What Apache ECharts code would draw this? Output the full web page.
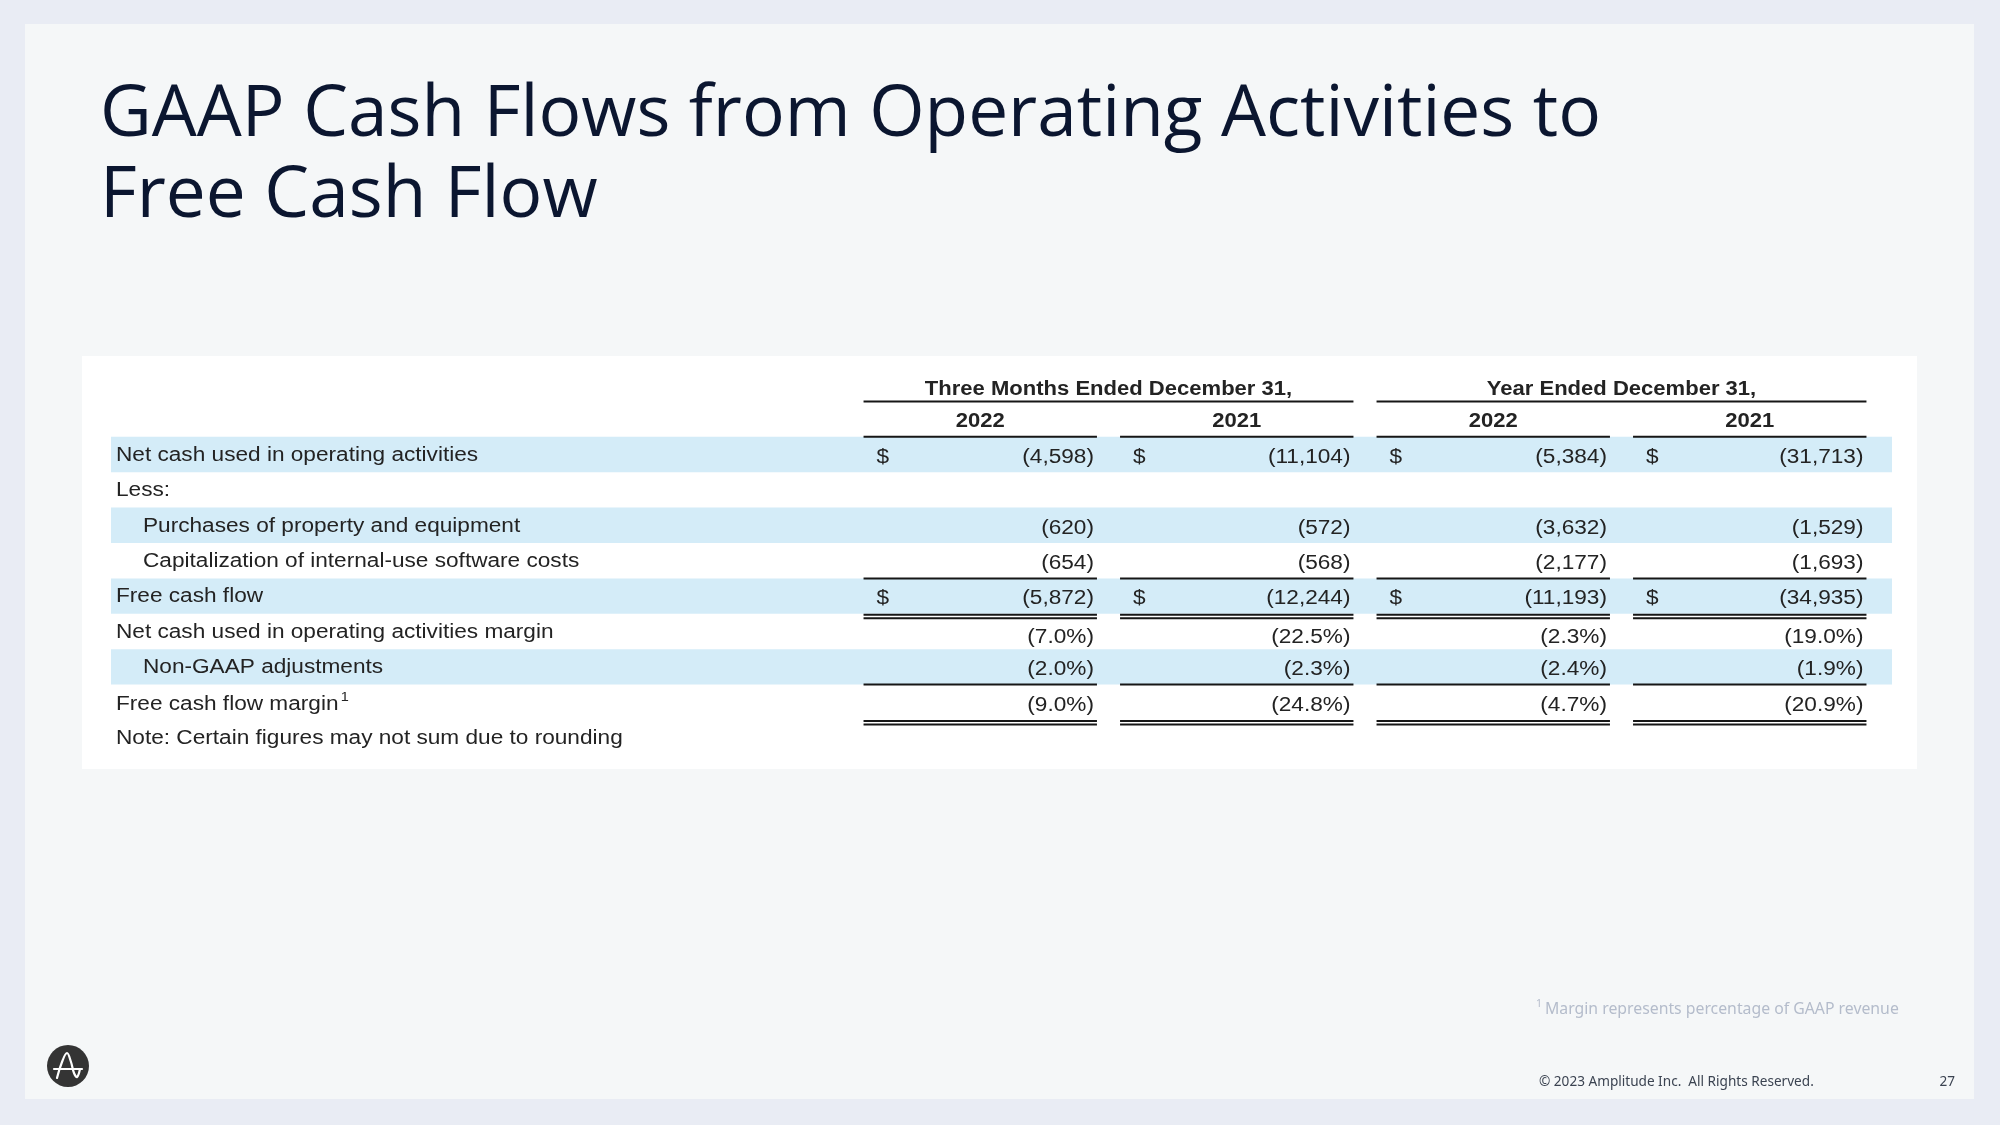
<!DOCTYPE html>
<html><head><meta charset="utf-8">
<script src="https://cdn.jsdelivr.net/npm/echarts@6/dist/echarts.min.js"></script>
<style>html,body{margin:0;padding:0;background:#e9ecf4;} #c{width:2000px;height:1125px;}</style>
</head><body><div id="c"></div>
<script>
// ---------- data ----------
const titleLines = ['GAAP Cash Flows from Operating Activities to', 'Free Cash Flow'];
const columnGroups = ['Three Months Ended December 31,', 'Year Ended December 31,'];
const columnYears = ['2022', '2021', '2022', '2021'];
const rowLabels = [
  'Net cash used in operating activities',
  'Less:',
  'Purchases of property and equipment',
  'Capitalization of internal-use software costs',
  'Free cash flow',
  'Net cash used in operating activities margin',
  'Non-GAAP adjustments',
  'Free cash flow margin',
  'Note: Certain figures may not sum due to rounding'
];
const rowUnits = ['$', '', '$', '$', '$', '%', '%', '%', ''];
const threeMonths2022 = [-4598, null, -620, -654, -5872, -7.0, -2.0, -9.0, null];
const threeMonths2021 = [-11104, null, -572, -568, -12244, -22.5, -2.3, -24.8, null];
const year2022 = [-5384, null, -3632, -2177, -11193, -2.3, -2.4, -4.7, null];
const year2021 = [-31713, null, -1529, -1693, -34935, -19.0, -1.9, -20.9, null];
const footnote = 'Margin represents percentage of GAAP revenue';
const copyright = '\u00a9 2023 Amplitude Inc.  All Rights Reserved.';
const pageNumber = '27';

// ---------- row styling ----------
const rowIndent = [0, 0, 1, 1, 0, 0, 1, 0, 0];
const rowShaded = [1, 0, 1, 0, 1, 0, 1, 0, 0];
const rowDollar = [1, 0, 0, 0, 1, 0, 0, 0, 0];
const rowSuperscript = [0, 0, 0, 0, 0, 0, 0, 1, 0];
const rowValueNudge = [0, 0, 0, 0, 0, 3, 0, 0, 0];

const columns = [threeMonths2022, threeMonths2021, year2022, year2021];
const rowKeys = ['group', 'year'].concat(rowLabels);

function fmt(v, unit) {
  if (v === null || v === undefined) return '';
  const a = Math.abs(v);
  const s = unit === '%' ? a.toFixed(1) + '%' : a.toLocaleString('en-US');
  return v < 0 ? '(' + s + ')' : s;
}

const SX = 1.16;
const FONT = '"Liberation Sans", Arial, Helvetica, sans-serif';
const INK = '#232323';
function txt(x, y, text, align, bold, rich, sx) {
  const st = {text: text, align: align, verticalAlign: 'middle', fontFamily: FONT,
    fontSize: 19.5, fontWeight: bold ? 'bold' : 'normal', fill: INK};
  if (rich) st.rich = rich;
  return {type: 'text', x: x, y: y, scaleX: sx || SX, style: st};
}
function hline(x1, x2, y) {
  return {type: 'line', shape: {x1: x1, y1: y, x2: x2, y2: y}, style: {stroke: '#161616', lineWidth: 2}};
}

// title measurement for width matching
const mctx = document.createElement('canvas').getContext('2d');
const TITLE_FONT = '"Open Sans", sans-serif';
mctx.font = '400 71px ' + TITLE_FONT;
const titleScale = 1501 / mctx.measureText(titleLines[0]).width;

const chart = echarts.init(document.getElementById('c'), null, {renderer: 'canvas'});

const option = {
  backgroundColor: '#e9ecf4',
  animation: false,
  grid: {left: 852, right: 122, top: 366, height: 389.4, containLabel: false},
  xAxis: {type: 'category', data: ['q22', 'q21', 'y22', 'y21'], show: false},
  yAxis: {type: 'category', data: rowKeys, inverse: true, show: false},
  graphic: [
    {type: 'rect', z: -10, shape: {x: 25, y: 24, width: 1949, height: 1075}, style: {fill: '#f5f7f8'}},
    {type: 'rect', z: -9, shape: {x: 82, y: 356, width: 1835, height: 413}, style: {fill: '#ffffff'}},
    {type: 'text', z: 10, x: 100, y: 116, scaleX: titleScale,
      style: {text: titleLines[0], fontFamily: TITLE_FONT, fontSize: 71, fill: '#0b1630', verticalAlign: 'middle', align: 'left'}},
    {type: 'text', z: 10, x: 100, y: 197, scaleX: titleScale,
      style: {text: titleLines[1], fontFamily: TITLE_FONT, fontSize: 71, fill: '#0b1630', verticalAlign: 'middle', align: 'left'}},
    {type: 'text', z: 10, x: 1536, y: 1009,
      style: {text: '{s|1}{m|' + footnote + '}', verticalAlign: 'middle', align: 'left',
        rich: {s: {fontSize: 10.5, fill: '#b4bccb', fontFamily: '"Noto Sans", sans-serif', padding: [0, 3, 9, 0]},
               m: {fontSize: 15.8, fill: '#b4bccb', fontFamily: '"Noto Sans", sans-serif'}}}},
    {type: 'text', z: 10, x: 1539, y: 1082,
      style: {text: copyright, fontFamily: '"Noto Sans", sans-serif', fontSize: 13.6, fill: '#3b4351', verticalAlign: 'middle', align: 'left'}},
    {type: 'text', z: 10, x: 1955, y: 1082,
      style: {text: pageNumber, fontFamily: '"Noto Sans", sans-serif', fontSize: 13.6, fill: '#3b4351', verticalAlign: 'middle', align: 'right'}},
    {type: 'circle', z: 10, shape: {cx: 68, cy: 1066, r: 21}, style: {fill: '#343434'}},
    {type: 'line', z: 11, shape: {x1: 54, y1: 1069, x2: 82, y2: 1069}, style: {stroke: '#ffffff', lineWidth: 2.2, lineCap: 'round'}},
    {type: 'polyline', z: 11, shape: {points: [[57, 1078], [62, 1062], [67, 1053], [71, 1062], [74, 1073], [77, 1077], [80, 1069]], smooth: 0.4},
      style: {stroke: '#ffffff', lineWidth: 2.2, fill: null, lineCap: 'round', lineJoin: 'round'}}
  ],
  series: [
    {
      type: 'custom', name: 'bands', z: 1, clip: false,
      encode: {x: 0, y: 1},
      data: rowLabels.map((_, k) => [0, k + 2]).filter((_, k) => rowShaded[k]),
      renderItem: function (params, api) {
        const cs = params.coordSys;
        const cy = api.coord([0, api.value(1)])[1];
        const h = api.size([0, 1])[1];
        return {type: 'rect', shape: {x: cs.x - 741, y: cy - h / 2, width: cs.width + 755, height: h},
          style: {fill: '#d4ecf8'}};
      }
    },
    {
      type: 'custom', name: 'table', z: 2, clip: false,
      encode: {x: 0, y: 1},
      data: rowKeys.map((_, i) => [0, i]),
      renderItem: function (params, api) {
        const cs = params.coordSys;
        const r = api.value(1);
        const cy = api.coord([0, r])[1];
        const colW = api.size([1, 0])[0];
        const rowH = api.size([0, 1])[1];
        const centers = [0, 1, 2, 3].map(c => api.coord([c, r])[0]);
        const half = colW * 0.455;
        const top = cy - rowH / 2, bot = cy + rowH / 2;
        const kids = [];
        if (r === 0) {
          for (let g = 0; g < 2; g++) {
            const a = centers[2 * g], b = centers[2 * g + 1];
            kids.push(txt((a + b) / 2, cy + 6, columnGroups[g], 'center', true, null, 1.13));
            kids.push(hline(a - half, b + half, bot));
          }
        } else if (r === 1) {
          for (let c = 0; c < 4; c++) {
            kids.push(txt(centers[c], cy + 3, columnYears[c], 'center', true, null, 1.13));
            kids.push(hline(centers[c] - half, centers[c] + half, bot));
          }
        } else {
          const k = r - 2;
          const lx = cs.x - 736 + rowIndent[k] * 27;
          if (rowSuperscript[k]) {
            kids.push(txt(lx, cy + 2, '{a|' + rowLabels[k] + '}{s|1}', 'left', false,
              {a: {fontSize: 19.5, fill: INK, fontFamily: FONT}, s: {fontSize: 12.5, fill: INK, fontFamily: FONT, padding: [0, 0, 13, 2]}}));
          } else {
            kids.push(txt(lx, cy + 1, rowLabels[k], 'left', false));
          }
          for (let c = 0; c < 4; c++) {
            const v = columns[c][k];
            const vy = cy + 3 + rowValueNudge[k];
            if (v !== null) {
              kids.push(txt(centers[c] + half - 3, vy, fmt(v, rowUnits[k]), 'right', false));
            }
            if (rowDollar[k]) kids.push(txt(centers[c] - half + 13, vy, '$', 'left', false));
            const x1 = centers[c] - half, x2 = centers[c] + half;
            if (k === 4) {
              kids.push(hline(x1, x2, top));
              kids.push(hline(x1, x2, bot + 1));
              kids.push(hline(x1, x2, bot + 4.5));
            }
            if (k === 6) kids.push(hline(x1, x2, bot));
            if (k === 7) {
              kids.push(hline(x1, x2, bot + 1));
              kids.push(hline(x1, x2, bot + 4.5));
            }
          }
        }
        return {type: 'group', children: kids};
      }
    }
  ]
};
chart.setOption(option);
</script>
</body></html>
